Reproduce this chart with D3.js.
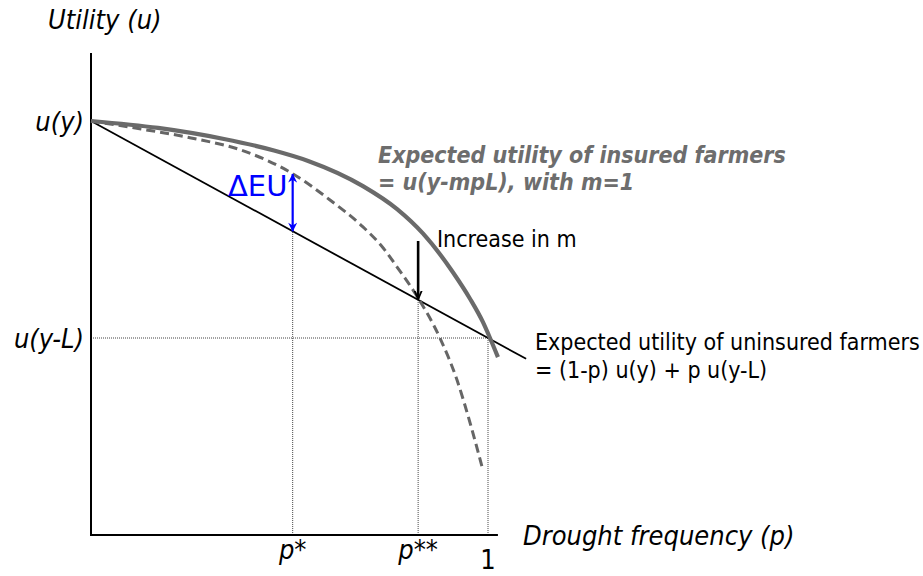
<!DOCTYPE html>
<html>
<head>
<meta charset="utf-8">
<script src="https://cdn.jsdelivr.net/npm/d3@7/dist/d3.min.js"></script>
<style>
  html, body { margin: 0; padding: 0; background: #fff; }
  svg { display: block; }
  .cond { font-family: "DejaVu Sans Condensed", "DejaVu Sans", sans-serif; font-stretch: condensed; }
</style>
</head>
<body>
<svg id="chart" width="923" height="576"></svg>
<script>
// ---- data (p = drought frequency, u = utility, u(y)=1, u(y-L)=0) ----
const insuredP   = [0, 0.169, 0.335, 0.461, 0.547, 0.685, 0.771, 0.836, 0.912, 0.955, 0.987, 1.005, 1.025];
const insuredU   = [1, 0.968, 0.917, 0.864, 0.816, 0.700, 0.594, 0.482, 0.302, 0.180, 0.074, 0.0, -0.088];
const higherMP   = [0, 0.126, 0.252, 0.378, 0.509, 0.602, 0.685, 0.736, 0.771, 0.824, 0.879, 0.922, 0.955, 0.985];
const higherMU   = [1, 0.963, 0.922, 0.866, 0.756, 0.636, 0.512, 0.415, 0.327, 0.184, 0.0, -0.194, -0.392, -0.594];
const uninsuredP = [0, 1.096];
const uninsuredU = [1, -0.096];
const pMarks     = [0.508, 0.824, 1.0];
const pLabels    = ["p*", "p**", "1"];
const uMarks     = [1, 0];
const uLabels    = ["u(y)", "u(y-L)"];
const axisP      = [0, 1.025];
const axisU      = [-0.908, 1.313];
const deltaEUTop = 0.756;

const svg = d3.select("#chart");
const x = d3.scaleLinear().domain([0, 1]).range([91, 488]);
const y = d3.scaleLinear().domain([0, 1]).range([338, 121]);

const defs = svg.append("defs");
defs.append("marker").attr("id", "blackHead").attr("viewBox", "0 0 10 10")
  .attr("refX", 9).attr("refY", 5).attr("markerWidth", 9).attr("markerHeight", 9)
  .attr("markerUnits", "userSpaceOnUse").attr("orient", "auto")
  .append("path").attr("d", "M0,1 L9.5,5 L0,9").attr("fill", "none").attr("stroke", "#000").attr("stroke-width", 2);
defs.append("marker").attr("id", "blueHead").attr("viewBox", "0 0 10 10")
  .attr("refX", 9.5).attr("refY", 5).attr("markerWidth", 11).attr("markerHeight", 9)
  .attr("markerUnits", "userSpaceOnUse").attr("orient", "auto-start-reverse")
  .append("path").attr("d", "M0,0 L10,5 L0,10 L3,5 Z").attr("fill", "#0000ff");

// dotted guide lines
const guide = svg.append("g").attr("stroke", "#444").attr("stroke-width", 1).attr("stroke-dasharray", "1,1").attr("fill", "none");
guide.append("line").attr("x1", x(0)).attr("x2", x(pMarks[2])).attr("y1", y(0)).attr("y2", y(0));
pMarks.forEach(p => {
  const top = 1 - p; // point on uninsured line
  guide.append("line").attr("x1", x(p)).attr("x2", x(p)).attr("y1", y(axisU[0])).attr("y2", y(Math.max(top, 0)));
});

// axes
const ax = svg.append("g").attr("stroke", "#000").attr("stroke-width", 2);
ax.append("line").attr("x1", x(0)).attr("x2", x(0)).attr("y1", y(axisU[1])).attr("y2", y(axisU[0]) + 1);
ax.append("line").attr("x1", x(0)).attr("x2", x(axisP[1])).attr("y1", y(axisU[0])).attr("y2", y(axisU[0]));

// uninsured straight line
const line = d3.line().x(d => x(d[0])).y(d => y(d[1]));
svg.append("path").datum(d3.zip(uninsuredP, uninsuredU)).attr("d", line)
  .attr("fill", "none").attr("stroke", "#000").attr("stroke-width", 1.8);

// dashed curve (higher m)
const curve = d3.line().x(d => x(d[0])).y(d => y(d[1])).curve(d3.curveMonotoneX);
svg.append("path").datum(d3.zip(higherMP, higherMU)).attr("d", curve)
  .attr("fill", "none").attr("stroke", "#666").attr("stroke-width", 3).attr("stroke-dasharray", "9,5");

// insured solid curve
svg.append("path").datum(d3.zip(insuredP, insuredU)).attr("d", curve)
  .attr("fill", "none").attr("stroke", "#6a6a6a").attr("stroke-width", 4.2);

// ΔEU arrow
svg.append("line").attr("x1", x(pMarks[0])).attr("x2", x(pMarks[0]))
  .attr("y1", y(1 - pMarks[0])).attr("y2", y(deltaEUTop))
  .attr("stroke", "#0000ff").attr("stroke-width", 2.2)
  .attr("marker-start", "url(#blueHead)").attr("marker-end", "url(#blueHead)");
svg.append("text").attr("x", 228).attr("y", 196).attr("fill", "#0000ff")
  .attr("font-family", "DejaVu Sans").attr("font-size", 29).text("ΔEU");

// increase in m arrow
svg.append("line").attr("x1", x(pMarks[1])).attr("x2", x(pMarks[1]))
  .attr("y1", 241).attr("y2", y(1 - pMarks[1]) - 1)
  .attr("stroke", "#000").attr("stroke-width", 2.6).attr("marker-end", "url(#blackHead)");

// texts
const t = (xx, yy, s, opts = {}) => {
  const el = svg.append("text").attr("class", "cond").attr("x", xx).attr("y", yy)
    .attr("font-size", opts.size || 23).attr("fill", opts.fill || "#000")
    .attr("font-style", opts.italic ? "italic" : "normal")
    .attr("font-weight", opts.bold ? "bold" : "normal")
    .attr("text-anchor", opts.anchor || "start").text(s);
  return el;
};
t(48, 29, "Utility (u)", { size: 27, italic: true });
uMarks.forEach((u, i) => t(84, y(u) + 10, uLabels[i], { size: 27, italic: true, anchor: "end" }));
t(523, 545, "Drought frequency (p)", { size: 27, italic: true });
pMarks.forEach((p, i) => t(x(p), i === 2 ? 569 : 559, pLabels[i], { size: 27, italic: i !== 2, anchor: "middle" }));

t(378, 163, "Expected utility of insured farmers", { bold: true, italic: true, fill: "#6d6d6d" });
t(378, 190, "= u(y-mpL), with m=1", { bold: true, italic: true, fill: "#6d6d6d" });
t(437, 247, "Increase in m");
t(535, 350, "Expected utility of uninsured farmers");
t(535, 378, "= (1-p) u(y) + p u(y-L)");
</script>
</body>
</html>
